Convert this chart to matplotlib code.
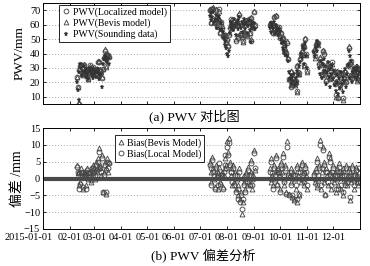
import numpy as np
import matplotlib
matplotlib.use('Agg')
import matplotlib.pyplot as plt
import matplotlib.dates as mdates
import matplotlib.transforms as mtransforms

plt.rcParams['font.family'] = ['Liberation Serif', 'Noto Sans CJK SC']
plt.rcParams['axes.unicode_minus'] = True

# ---------------- data (daily, per observing segment) ----------------
seg_starts = ['2015-02-09', '2015-07-12', '2015-09-19', '2015-11-09']

sounding = [
    [20, 15, 8, 27, 33, 30, 25, 28, 31, 27, 24, 29, 26, 22, 28, 30, 27, 25, 23, 29,
     26, 28, 24, 27, 29, 22, 26, 25, 26, 17, 33, 36, 38, 35, 37, 34, 36, 33],
    [66, 68, 63, 65, 69, 62, 64, 67, 58, 65, 63, 66, 56, 61, 57, 55, 51, 49, 46, 44,
     40, 38, 42, 54, 58, 62, 60, 56, 64, 59, 53, 61, 57, 63, 65, 60, 58, 62, 55, 64,
     60, 57, 61, 54, 59, 63, 56, 48, 60, 62, 58, 61, 57],
    [58, 61, 55, 59, 57, 62, 54, 60, 56, 58, 53, 57, 55, 50, 47, 44, 48, 42, 39, 45,
     38, 35, 27, 22, 25, 19, 24, 21, 26, 18, 23, 28, 20, 25, 31, 34, 40, 37, 45, 43,
     33, 47, 38, 30],
    [41, 38, 44, 49, 42, 46, 30, 26, 35, 23, 33, 28, 36, 31, 19, 27, 34, 24, 29, 17,
     26, 32, 22, 28, 18, 14, 25, 20, 12, 23, 16, 27, 19, 13, 24, 21, 29, 17, 26, 32,
     42, 38, 23, 35, 20, 27, 30, 24, 28, 22, 30, 25, 27],
]

bias_bevis = [
    [4, 1.5, -2, 2, -1, 3, 1, -3, 2, 0.5, 1.5, -2, 3, 0, 2, 1, -1, 2.5, 4, 1,
     3, 0, 5, 2, 6, 3, 9, 4, 1, 7, -4, 2, 5, -4.5, 3, 6, 2, 5],
    [5, 2, -1, 6.5, 3, 0, -2.5, 4, 1, -3, 2, 3.5, -1, 0.5, 2, -2.5, 1, 3, 6, 4,
     11, 8, 12, 5, 3, 1, -2, 4, -1, 2, -3, 0, -5, -2, 3, -6, -4, -10.5, -7, -1,
     1, -3, 2, -2, 3.5, 0, -1.5, 2, 5.5, -3, 1, 8.5, 2.5],
    [3, -1, 6, 1, -2, 4, 0, 7, 2, -1.5, 3, 1, -3, 5, 2, 7.5, -2, 0, 4, -4,
     11, 2, -4.5, 1, 3, -1, -5.5, 2, -6.5, 0, -3, 4, -7, 1, -5, 3, -1, 5, 0, 2,
     -2, 4, 1, -3],
    [2, -1, 3, -2.5, 6, 0, 4, 11.5, -3, 2, 9.5, -1, 5, -4.5, 3, 1, -2, 7.5, 2, 6,
     -3, 1, 4, -1, 2, -4, 3, 0, -2, 4.5, 1, -3, 2, -5, 3, 0, -1, 4, -2, 1,
     3, -6.5, 2, -1, 4, 0, -3, 2, 3.5, -1, 1, -2, 2],
]

bias_local = [
    [3.5, 2, -3, 1.5, -1.5, 2, 1.5, -2.5, 1, 1, 2, -3, 2.5, 0.5, 1.5, 2, -0.5, 3, 3, 1.5,
     2, 1, 4, 2.5, 5, 3.5, 8, 3, 2, 6, -4, 1, 4, -4, 2.5, 5, 3, 4.5],
    [4, 3, -2, 5.5, 2, 1, -3, 3, 1.5, -2, 1, 4.5, -1.5, 1, 1, -3, 2, 4, 7, 3,
     9.5, 7, 10.5, 4, 2, 2, -1, 3, -2, 1, -4, 1, -6, -3, 2, -7, -5, -9, -6, -2,
     0, -4, 1, -1, 2.5, 1, -2, 1, 4.5, -2, 0, 7.5, 3],
    [2, 0, 5, 1.5, -3, 3, 1, 6, 2.5, -2, 2, 1.5, -4, 4, 3, 6.5, -1, 1, 3, -4.5,
     9.5, 1, -5, 0.5, 2, -2, -5, 1, -6, 1, -2, 3, -6, 2, -4.5, 2, 0, 4, 1, 1.5,
     -1, 3, 2, -2],
    [1, 0, 2, -2, 5, 1, 3, 10, -2, 3, 8.5, 0, 4, -5, 2, 2, -1, 6.5, 1, 5,
     -2, 2, 3, 0, 1, -3, 2, 1, -3, 3.5, 2, -2, 1, -4, 2, 1, -2, 3, -1, 0,
     2, -5.5, 1, 0, 3, 1, -2, 1, 2.5, 0, 0, -1, 3],
]

tick_dates = ['2015-01-01', '2015-02-01', '2015-03-01', '2015-04-01', '2015-05-01',
              '2015-06-01', '2015-07-01', '2015-08-01', '2015-09-01', '2015-10-01',
              '2015-11-01', '2015-12-01', '2016-01-01']
tick_labels = ['2015-01-01', '02-01', '03-01', '04-01', '05-01', '06-01', '07-01',
               '08-01', '09-01', '10-01', '11-01', '12-01', '']

# ---------------- assemble ----------------
dates, snd, bb, bl = [], [], [], []
for s, v, b1, b2 in zip(seg_starts, sounding, bias_bevis, bias_local):
    d = np.datetime64(s) + np.arange(len(v))
    dates.append(d); snd.append(v); bb.append(b1); bl.append(b2)
dates = np.concatenate(dates).astype('datetime64[D]').astype(object)
snd = np.concatenate(snd).astype(float)
bb = np.concatenate(bb).astype(float)
bl = np.concatenate(bl).astype(float)
pwv_bevis = snd + bb
pwv_local = snd + bl

# ---------------- figure ----------------
W, H = 370, 266
fig = plt.figure(figsize=(W / 100, H / 100), dpi=100)
L, R = 43 / W, 360 / W
ax1 = fig.add_axes([L, 1 - 104 / H, R - L, 101 / H])
ax2 = fig.add_axes([L, 1 - 229 / H, R - L, 101 / H])

xt = [np.datetime64(t).astype(object) for t in tick_dates]
for ax in (ax1, ax2):
    ax.set_xlim(xt[0], xt[-1])
    ax.set_xticks(xt)
    ax.tick_params(direction='in', length=2.5, width=0.6, top=True, right=True,
                   labelsize=7.5, pad=2)
    ax.tick_params(axis='x', pad=3)
    for sp in ax.spines.values():
        sp.set_linewidth(0.7)
    ax.yaxis.grid(True, linestyle=(0, (1, 2.5)), color='#888888', linewidth=0.6)
    ax.set_axisbelow(True)

grey = '#484848'
ax1.plot(dates, pwv_local, linestyle='none', marker='o', ms=3.4, mfc='none',
         mec=grey, mew=0.65, label='PWV(Localized model)')
ax1.plot(dates, pwv_bevis, linestyle='none', marker='^', ms=3.4, mfc='none',
         mec=grey, mew=0.65, label='PWV(Bevis model)')
ax1.plot(dates, snd, linestyle='none', marker='*', ms=3.6, mfc='#333333',
         mec='#333333', mew=0.3, label='PWV(Sounding data)')
ax1.set_ylim(5, 75)
ax1.set_yticks([10, 20, 30, 40, 50, 60, 70])
ax1.set_xticklabels([])
ax1.set_ylabel('PWV/mm', fontsize=9.5, labelpad=3)
leg1 = ax1.legend(loc='upper left', bbox_to_anchor=(0.05, 0.985), fontsize=7,
                  frameon=True, fancybox=False, edgecolor='black', framealpha=1,
                  handlelength=0.8, handletextpad=0.4, borderpad=0.3,
                  labelspacing=0.15, borderaxespad=0)
leg1.get_frame().set_linewidth(0.6)

ax2.axhline(0, color='#4a4a4a', lw=3, zorder=1.5)
ax2.plot(dates, bb, linestyle='none', marker='^', ms=3.5, mfc='none',
         mec=grey, mew=0.65, label='Bias(Bevis Model)', zorder=2)
ax2.plot(dates, bl, linestyle='none', marker='o', ms=3.5, mfc='none',
         mec=grey, mew=0.65, label='Bias(Local Model)', zorder=2)
ax2.set_ylim(-15, 15)
ax2.set_yticks([-15, -10, -5, 0, 5, 10, 15])
ax2.set_xticklabels(tick_labels)
ax2.set_ylabel('偏差 /mm', fontsize=10, labelpad=0)
leg2 = ax2.legend(loc='upper left', bbox_to_anchor=(0.227, 0.93), fontsize=7,
                  frameon=True, fancybox=False, edgecolor='black', framealpha=1,
                  handlelength=0.6, handletextpad=0.3, borderpad=0.3,
                  labelspacing=0.15, borderaxespad=0)
leg2.get_frame().set_linewidth(0.6)

# shift the first (long) date label left like the original
first = ax2.get_xticklabels()[0]
first.set_transform(first.get_transform() +
                    mtransforms.ScaledTranslation(-14 / 100, 0, fig.dpi_scale_trans))

cx = (L + R) / 2
fig.text(cx - 0.02, 1 - 116 / H, '(a) PWV 对比图', ha='center', va='center', fontsize=9.5)
fig.text(cx + 0.005, 1 - 256 / H, '(b) PWV 偏差分析', ha='center', va='center', fontsize=9.5)

fig.savefig('out.png', dpi=100)
